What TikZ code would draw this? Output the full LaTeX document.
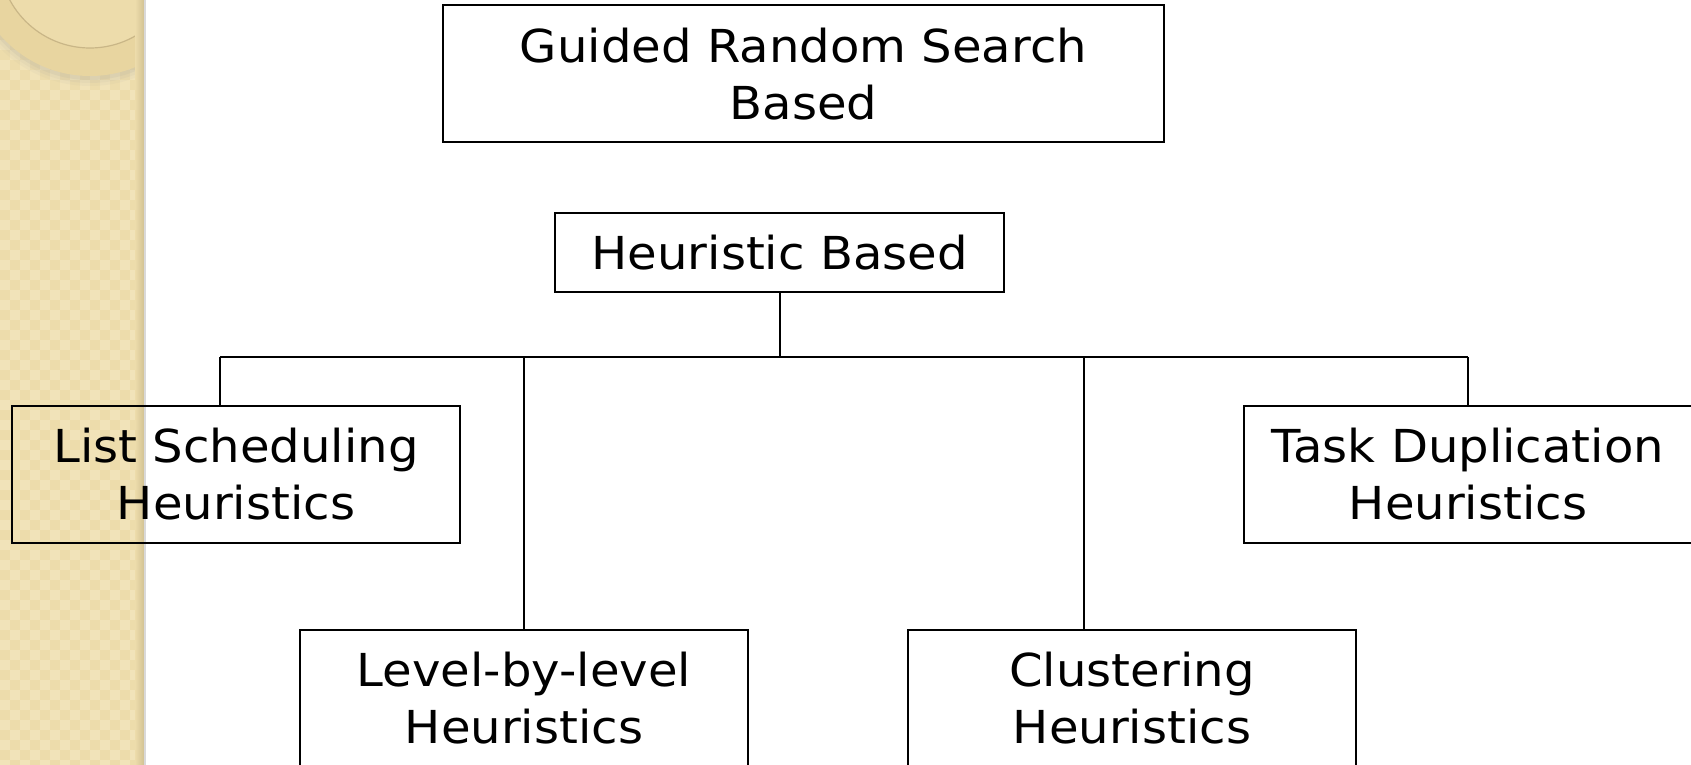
\documentclass[tikz,border=0pt]{standalone}
\usepackage{fontspec}
\setmainfont[FakeStretch=1.06]{DejaVu Sans}
\definecolor{stripbg}{HTML}{EDDCAB}
\definecolor{stripchk}{HTML}{F5E8C3}
\definecolor{stripedge}{HTML}{D2C293}
\definecolor{ringfill}{HTML}{E8D5A0}
\definecolor{ringline}{HTML}{C9B687}
\begin{document}
\begin{tikzpicture}[x=0.5pt,y=-0.5pt,
  box/.style 2 args={draw=black,line width=1pt,rectangle,inner sep=0pt,align=center,
    minimum width=#1*0.5pt,minimum height=#2*0.5pt,
    font=\fontsize{22.7}{28.5}\selectfont},
  link/.style={draw=black,line width=1pt}]
\useasboundingbox (0,0) rectangle (1691,765);
\fill[white] (0,0) rectangle (1691,765);
% decorative side strip
\begin{scope}
  \clip (0,0) rectangle (144,765);
  \fill[stripbg] (0,0) rectangle (144,765);
  \foreach \i in {0,20,...,140}
    \foreach \j in {0,20,...,760} {
      \fill[stripchk,opacity=0.6] (\i,\j) rectangle +(10,10);
      \fill[stripchk,opacity=0.6] (\i+10,\j+10) rectangle +(10,10);
    }
  % ring in the corner
  \foreach \k/\o in {0/0.10,3/0.08,6/0.06} {
    \fill[black!40,opacity=\o] (90,-40) circle[radius=120+\k];
  }
  \fill[ringfill,even odd rule] (90,-43) circle[radius=119] (90,-43) circle[radius=91];
  \fill[stripbg] (90,-43) circle[radius=91];
  \draw[ringline,line width=0.6pt] (90,-43) circle[radius=91];
  \shade[left color=stripbg,right color=stripedge] (135,0) rectangle (144,765);
\end{scope}
\fill[black!15] (144,0) rectangle (145.5,765);

% boxes
\node[box={721}{137}] (guided) at (803.5,73.7)
  {Guided Random Search\\Based};
\node[box={449}{79}] (heur) at (779.7,252.9)
  {Heuristic Based};
\node[box={448}{137}] (list) at (236,474.5)
  {List Scheduling\\Heuristics};
\node[box={448}{137}] (task) at (1468,474.5)
  {Task Duplication\\Heuristics};
\node[box={448}{137}] (level) at (524,698.5)
  {Level-by-level\\Heuristics};
\node[box={448}{137}] (clust) at (1132,698.5)
  {Clustering\\Heuristics};

% connectors
\coordinate (hub) at (779.7,357);
\coordinate (bl) at (220,357);
\coordinate (br) at (1468,357);
\coordinate (bv) at (524,357);
\coordinate (bc) at (1084,357);
\draw[link] (heur.south) -- (hub);
\draw[link] (bl) -- (br);
\draw[link] (bl) -- (bl |- list.north);
\draw[link] (br) -- (task.north);
\draw[link] (bv) -- (level.north);
\draw[link] (bc) -- (bc |- clust.north);
\end{tikzpicture}
\end{document}
